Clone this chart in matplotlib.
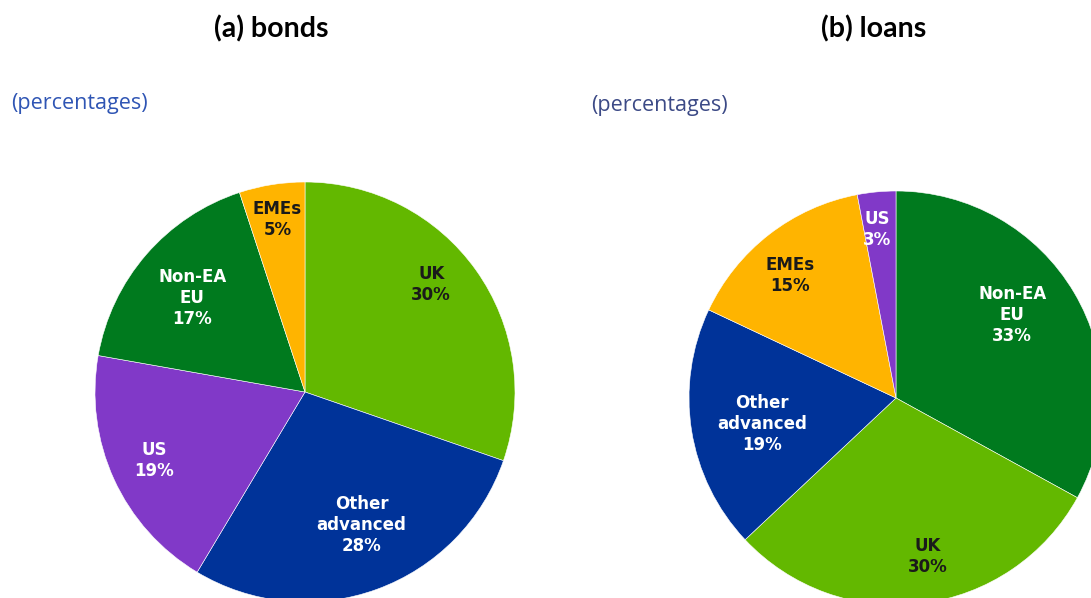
import matplotlib
matplotlib.use("Agg")
import matplotlib.pyplot as plt
import numpy as np

W, H = 1091, 598

# bonds
bond_labels = ["UK", "Other\nadvanced", "US", "Non-EA\nEU", "EMEs"]
bond_values = [30, 28, 19, 17, 5]
bond_colors = ["#63B800", "#003399", "#8139C8", "#007A1E", "#FFB400"]

# loans
loan_labels = ["Non-EA\nEU", "UK", "Other\nadvanced", "EMEs", "US"]
loan_values = [33, 30, 19, 15, 3]
loan_colors = ["#007A1E", "#63B800", "#003399", "#FFB400", "#8139C8"]

dark_text = {"#63B800", "#FFB400"}


def px_axes(fig, cx, cy, r):
    # axes box in pixel units, top-left origin
    return fig.add_axes([(cx - r) / W, 1 - (cy + r) / H, 2 * r / W, 2 * r / H])


def draw_pie(ax, labels, values, colors, label_r, label_shift):
    wedges, _ = ax.pie(values, colors=colors, startangle=90, counterclock=False,
                       radius=1, wedgeprops=dict(edgecolor="white", linewidth=0.4))
    for w, lab, val, col, lr, sh in zip(wedges, labels, values, colors, label_r, label_shift):
        ang = np.deg2rad((w.theta1 + w.theta2) / 2 + sh)
        ax.text(lr * np.cos(ang), lr * np.sin(ang), f"{lab}\n{val}%",
                ha="center", va="center", fontsize=12, fontweight="bold",
                family="DejaVu Sans", linespacing=1.22,
                color="#1a1a1a" if col in dark_text else "white")
    ax.set_xlim(-1, 1)
    ax.set_ylim(-1, 1)
    ax.set_aspect("equal")
    ax.axis("off")


fig = plt.figure(figsize=(W / 100, H / 100), dpi=100)

ax1 = px_axes(fig, 305, 392, 210)
draw_pie(ax1, bond_labels, bond_values, bond_colors,
         [0.79, 0.69, 0.79, 0.70, 0.83], [5, 3, 0, 1, 0])

ax2 = px_axes(fig, 896, 398, 207)
draw_pie(ax2, loan_labels, loan_values, loan_colors,
         [0.69, 0.78, 0.66, 0.78, 0.82], [5, 4, 2, 3, 1])

fig.text(271 / W, 1 - 29 / H, "(a) bonds", ha="center", va="center",
         fontsize=20.5, fontweight="bold", family="Lato")
fig.text(874 / W, 1 - 29 / H, "(b) loans", ha="center", va="center",
         fontsize=20.5, fontweight="bold", family="Lato")

fig.text(11 / W, 1 - 104 / H, "(percentages)", ha="left", va="center",
         fontsize=15.5, color="#2F55B4", family="Open Sans")
fig.text(591 / W, 1 - 105 / H, "(percentages)", ha="left", va="center",
         fontsize=15.5, color="#3C4A86", family="Open Sans")

fig.savefig("out.png", dpi=100)
